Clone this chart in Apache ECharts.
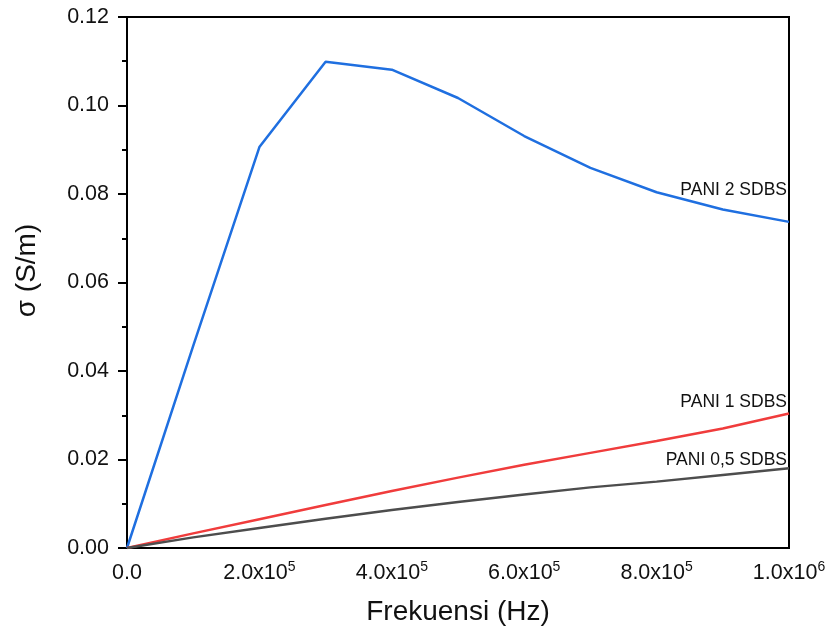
<!DOCTYPE html>
<html>
<head>
<meta charset="utf-8">
<script src="https://cdn.jsdelivr.net/npm/echarts@6/dist/echarts.min.js"></script>
<style>
html,body{margin:0;padding:0;background:#fff;}
#chart{width:829px;height:631px;}
</style>
</head>
<body>
<div id="chart"></div>
<script>
// Frequency values (Hz)
const frequencies = [0, 1e5, 2e5, 3e5, 4e5, 5e5, 6e5, 7e5, 8e5, 9e5, 1e6];
// Conductivity (S/m)
const pani2 = [0, 0.0457, 0.0906, 0.1099, 0.1081, 0.1017, 0.0931, 0.0859, 0.0804, 0.0765, 0.0737];
const pani1 = [0, 0.0033, 0.0065, 0.0097, 0.0129, 0.0159, 0.0188, 0.0215, 0.0242, 0.0270, 0.0304];
const pani05 = [0, 0.0024, 0.0045, 0.0066, 0.0086, 0.0104, 0.0121, 0.0137, 0.0150, 0.0165, 0.0180];
const seriesNames = ['PANI 2 SDBS', 'PANI 1 SDBS', 'PANI 0,5 SDBS'];
const xTickLabels = {0: '0.0', 200000: '2.0x10|5', 400000: '4.0x10|5', 600000: '6.0x10|5', 800000: '8.0x10|5', 1000000: '1.0x10|6'};
const yTickDecimals = 2;

const FONT = '"Liberation Sans", Arial, Helvetica, sans-serif';

function pairs(ys) { return frequencies.map((x, i) => [x, ys[i]]); }

function mkSeries(name, ys, color, dy) {
  const last = ys.length - 1;
  return {
    name: name,
    type: 'line',
    data: pairs(ys),
    showSymbol: false,
    symbol: 'none',
    lineStyle: {color: color, width: 2.5},
    itemStyle: {color: color},
    z: 3,
    animation: false,
    markPoint: {
      symbol: 'circle',
      symbolSize: 0,
      silent: true,
      animation: false,
      data: [{
        coord: [frequencies[last], ys[last]],
        label: {
          show: true,
          formatter: name,
          position: 'inside',
          align: 'right',
          verticalAlign: 'middle',
          offset: [-2, dy],
          color: '#111',
          fontSize: 17.5,
          fontFamily: FONT
        }
      }]
    }
  };
}

const chart = echarts.init(document.getElementById('chart'), null, {renderer: 'canvas'});
chart.setOption({
  backgroundColor: '#fff',
  animation: false,
  grid: {left: 127, right: 40, top: 17, bottom: 82, show: true, borderColor: '#000', borderWidth: 2, backgroundColor: 'transparent'},
  xAxis: {
    type: 'value',
    min: 0, max: 1000000, interval: 200000,
    name: 'Frekuensi (Hz)',
    nameLocation: 'middle',
    nameGap: 50,
    nameTextStyle: {fontSize: 28, color: '#111', fontFamily: FONT},
    axisLine: {show: true, onZero: false, lineStyle: {color: '#000', width: 2}},
    axisTick: {show: false},
    splitLine: {show: false},
    axisLabel: {
      margin: 12,
      color: '#111',
      fontSize: 21.5,
      fontFamily: FONT,
      formatter: function (v) {
        const s = xTickLabels[Math.round(v)];
        if (s === undefined) return '';
        const parts = s.split('|');
        if (parts.length === 1) return '{b|' + parts[0] + '}';
        return '{b|' + parts[0] + '}{sup|' + parts[1] + '}';
      },
      rich: {
        b: {fontSize: 21.5, lineHeight: 27, color: '#111', fontFamily: FONT},
        sup: {fontSize: 14, lineHeight: 14, color: '#111', fontFamily: FONT, verticalAlign: 'top'}
      }
    }
  },
  yAxis: {
    type: 'value',
    min: 0, max: 0.12, interval: 0.02,
    name: 'σ (S/m)',
    nameLocation: 'middle',
    nameGap: 86,
    nameTextStyle: {fontSize: 28, color: '#111', fontFamily: FONT, padding: [0, 0, 0, 24]},
    axisLine: {show: true, onZero: false, lineStyle: {color: '#000', width: 2}},
    axisTick: {show: true, inside: false, length: 9, lineStyle: {color: '#000', width: 2}},
    minorTick: {show: true, splitNumber: 2, length: 5, lineStyle: {color: '#000', width: 2}},
    splitLine: {show: false},
    minorSplitLine: {show: false},
    axisLabel: {
      margin: 18,
      color: '#111',
      fontSize: 21.5,
      fontFamily: FONT,
      formatter: function (v) { return v.toFixed(yTickDecimals); }
    }
  },
  series: [
    mkSeries(seriesNames[0], pani2, '#1f6fe0', -32),
    mkSeries(seriesNames[1], pani1, '#f03c3c', -11),
    mkSeries(seriesNames[2], pani05, '#4d4d4d', -8)
  ]
});
</script>
</body>
</html>
